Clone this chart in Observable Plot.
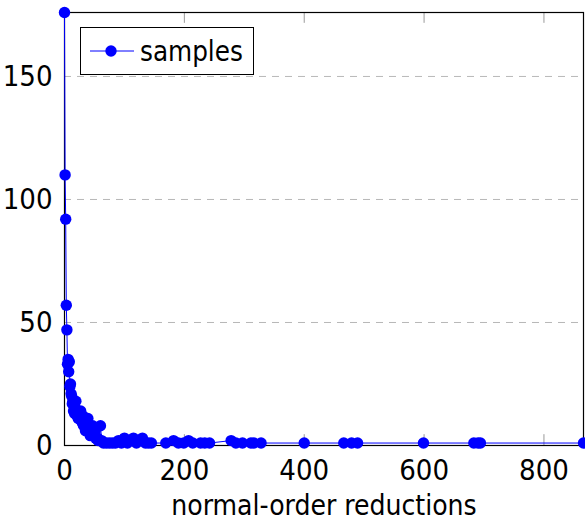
<!DOCTYPE html>
<html>
<head>
<meta charset="utf-8">
<script src="https://cdn.jsdelivr.net/npm/d3@7"></script>
<script src="https://cdn.jsdelivr.net/npm/@observablehq/plot@0.6"></script>
<style>
  html, body { margin: 0; padding: 0; background: #fff; }
  #wrap { position: relative; width: 585px; height: 520px; font-family: "DejaVu Sans Condensed", sans-serif; }
  #legend { position: absolute; left: 80px; top: 27px; width: 172px; height: 46px; border: 1px solid #000; background: #fff; box-sizing: content-box; }
  #legend svg { position: absolute; left: 8px; top: 16px; }
  #legend span { position: absolute; left: 59px; top: 6px; font-size: 27.5px; line-height: 34px; color: #000; }
</style>
</head>
<body>
<div id="wrap"><div id="legend"><svg width="46" height="14"><line x1="1" y1="7" x2="45" y2="7" stroke="#0000ff" stroke-width="1"/><circle cx="22" cy="7" r="5.7" fill="#0000ff"/></svg><span>samples</span></div></div>
<script>
const reductions = [0,1,2,3,4,5,6,7,8,9,10,11,12,13,14,15,16,17,18,19,20,21,22,23,24,26,27,28,30,31,32,34,35,36,38,39,40,42,43,44,46,47,48,50,51,52,55,56,58,60,62,65,70,75,80,85,90,95,100,105,110,115,120,125,130,135,140,145,169,182,190,199,207,214,227,234,242,278,286,297,311,316,328,400,466,479,489,599,683,690,694,866];
const samples =    [176,110,92,57,47,33,35,30,34,24,25,21,20,17,18,14,17,13,15,18,13,12,14,11,12,11,14,10,9,12,8,10,6,7,8,11,6,7,4,5,5,8,4,4,6,3,3,2,2,8,2,1,1,1,1,1,2,1,3,1,2,3,1,2,3,1,1,1,1,2,1,1,2,1,1,1,1,2,1,1,1,1,1,1,1,1,1,1,1,1,1,1];
const xTicks = [0,200,400,600,800];
const yTicks = [0,50,100,150];
const gridLines = [50,100,150];
const xLabel = "normal-order reductions";

const data = reductions.map((x, i) => ({x, y: samples[i]}));
const xMax = d3.max(reductions);
const yMax = d3.max(samples);
const FONT = "DejaVu Sans Condensed, sans-serif";

const chart = Plot.plot({
  width: 585,
  height: 520,
  marginLeft: 64,
  marginRight: 2,
  marginTop: 12,
  marginBottom: 75,
  style: { fontFamily: FONT, fontSize: "30px", color: "#000", background: "#fff", overflow: "visible" },
  x: { domain: [0, xMax] },
  y: { domain: [0, yMax] },
  marks: [
    Plot.ruleY(gridLines, { stroke: "#b8b8b8", strokeDasharray: "7,6", strokeWidth: 1 }),
    Plot.ruleX(xTicks.slice(1), { x: d => d, y1: 0, y2: yMax * 0.025, stroke: "#999" }),
    Plot.ruleX(xTicks.slice(1), { x: d => d, y1: yMax * 0.975, y2: yMax, stroke: "#999" }),
    Plot.axisX({ ticks: xTicks, tickSize: 0, tickPadding: 14, label: null, fontSize: 29 }),
    Plot.axisY({ ticks: yTicks, tickSize: 0, tickPadding: 12, label: null, fontSize: 29 }),
    Plot.text([xLabel], { frameAnchor: "bottom", dy: 69, fontSize: 28, text: d => d }),
    Plot.frame({ stroke: "#000", strokeWidth: 1.2 }),
    Plot.line(data, { x: "x", y: "y", stroke: "#0000ff", strokeWidth: 1 }),
    Plot.dot(data, { x: "x", y: "y", r: 5.7, fill: "#0000ff", stroke: "none" })
  ]
});
document.getElementById("wrap").prepend(chart);
chart.style.position = "absolute";
chart.style.left = "0";
chart.style.top = "0";
</script>
</body>
</html>
